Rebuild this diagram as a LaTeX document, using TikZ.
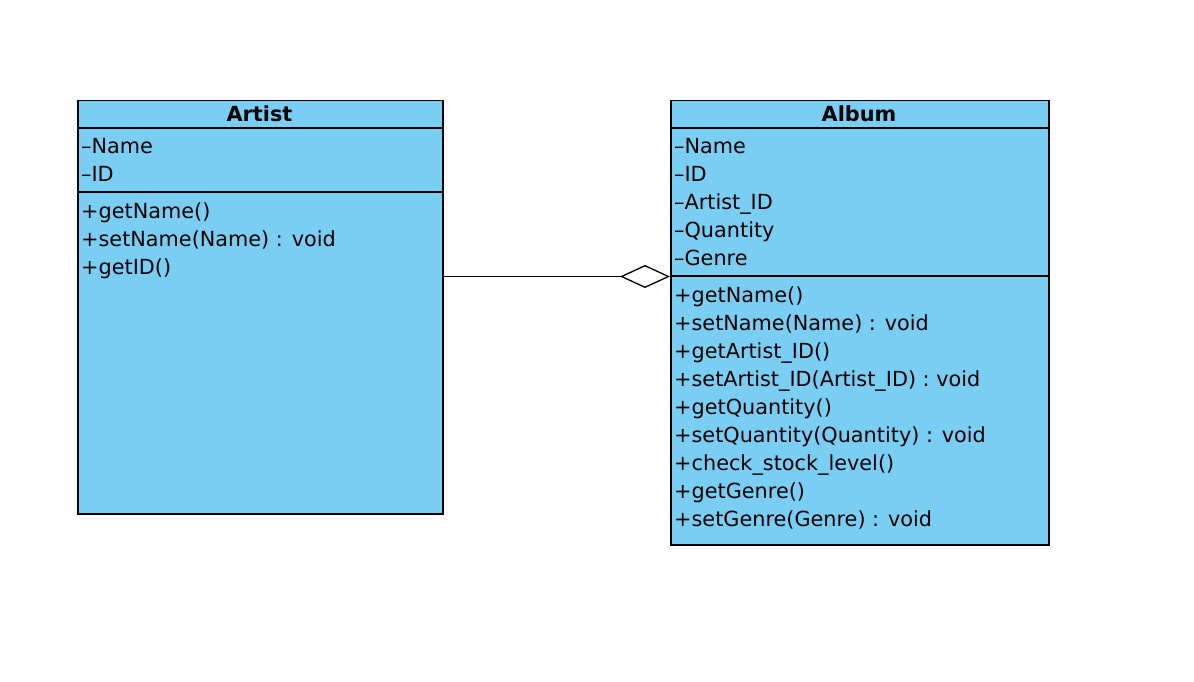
\documentclass[tikz,border=0pt]{standalone}
\usepackage{fontspec}
\setmainfont{DejaVu Sans}
\usetikzlibrary{arrows.meta}
\definecolor{classblue}{RGB}{122,206,244}
\tikzset{
	classbox/.style={draw=black, fill=classblue, line width=1.5pt, anchor=north west, inner sep=0pt},
	member/.style={anchor=base west, inner sep=0pt, font=\fontsize{20.8}{24}\selectfont},
	title/.style={anchor=base, inner sep=0pt, font=\fontsize{20.8}{24}\selectfont\bfseries}
}

\begin{document}
\begin{tikzpicture}[x=1pt, y=-1pt]
        \useasboundingbox (0, 0) rectangle (1194, 682);
        % Artist
        \node[classbox, minimum width=365pt, minimum height=413pt] (artist) at (77, 100) {};
        \draw[line width=1.5pt] (77, 128) -- (442, 128);
        \draw[line width=1.5pt] (77, 192) -- (442, 192);
        \node[title] (artist_title) at (259.5, 122) {Artist};
        \foreach \txt [count=\i] in {--Name, --ID}
            \node[member] (artist_attr\i) at (81, 153.5 + 28*\i - 28) {\txt};
        \foreach \txt [count=\i] in {+getName(), +setName(Name) : void, +getID()}
            \node[member] (artist_op\i) at (81, 218 + 28*\i - 28) {\txt};
        % Album
        \node[classbox, minimum width=378pt, minimum height=444pt] (album) at (670, 100) {};
        \draw[line width=1.5pt] (670, 128) -- (1048, 128);
        \draw[line width=1.5pt] (670, 276) -- (1048, 276);
        \node[title] (album_title) at (859, 122) {Album};
        \foreach \txt [count=\i] in {--Name, --ID, --Artist\_ID, --Quantity, --Genre}
            \node[member] (album_attr\i) at (674, 153.5 + 28*\i - 28) {\txt};
        \foreach \txt [count=\i] in {+getName(), +setName(Name) : void, +getArtist\_ID(),
                +setArtist\_ID(Artist\_ID) : void, +getQuantity(), +setQuantity(Quantity) : void,
                +check\_stock\_level(), +getGenre(), +setGenre(Genre) : void}
            \node[member] (album_op\i) at (674, 302 + 28*\i - 28) {\txt};
        % aggregation
        \coordinate (artist_link) at (444, 276.5);
        \coordinate (album_link) at (670, 276.5);
        \draw[line width=1.3pt, -{Diamond[open, length=50pt, width=23pt, line width=1.3pt]}] (artist_link) -- (album_link);
    \end{tikzpicture}
\end{document}
